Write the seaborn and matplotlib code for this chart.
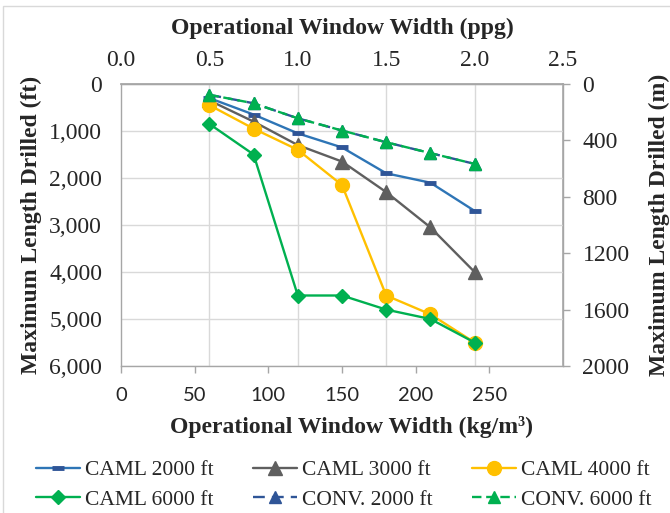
import numpy as np
import pandas as pd
import matplotlib
matplotlib.use("Agg")
import matplotlib.pyplot as plt
import seaborn as sns
from matplotlib.ticker import FixedLocator, FuncFormatter
from matplotlib.patches import Rectangle

# ---------------- data ----------------
width_kg = [60, 90, 120, 150, 180, 210, 240]
caml_2000 = [300, 650, 1050, 1350, 1900, 2100, 2700]
caml_3000 = [350, 800, 1300, 1650, 2300, 3050, 4000]
caml_4000 = [450, 950, 1400, 2150, 4500, 4900, 5500]
caml_6000 = [850, 1500, 4500, 4500, 4800, 5000, 5500]
conv_2000 = [230, 410, 730, 990, 1240, 1470, 1700]
conv_6000 = [230, 410, 730, 990, 1240, 1470, 1700]
series_names = ["CAML 2000 ft", "CAML 3000 ft", "CAML 4000 ft",
                "CAML 6000 ft", "CONV. 2000 ft", "CONV. 6000 ft"]
bottom_ticks = [0, 50, 100, 150, 200, 250]
top_ticks = [0.0, 0.5, 1.0, 1.5, 2.0, 2.5]
left_ticks = [0, 1000, 2000, 3000, 4000, 5000, 6000]
right_ticks = [0, 400, 800, 1200, 1600, 2000]

values = [caml_2000, caml_3000, caml_4000, caml_6000, conv_2000, conv_6000]
df = pd.concat([pd.DataFrame({"kg": width_kg, "ft": v, "series": n})
                for n, v in zip(series_names, values)], ignore_index=True)

# ---------------- style ----------------
sns.set_theme(style="white")
plt.rcParams["font.family"] = ["Liberation Serif", "DejaVu Serif"]

styles = {
    "CAML 2000 ft": dict(color="#2E75B6", marker="_", markersize=9, markeredgewidth=3.5,
                         markeredgecolor="#2F5597", linestyle="-"),
    "CAML 3000 ft": dict(color="#5F5F5F", marker="^", markersize=10, markeredgewidth=1,
                         markeredgecolor="#5F5F5F", linestyle="-"),
    "CAML 4000 ft": dict(color="#FFC000", marker="o", markersize=10, markeredgewidth=1,
                         markeredgecolor="#FFC000", linestyle="-"),
    "CAML 6000 ft": dict(color="#00B050", marker="D", markersize=7, markeredgewidth=1,
                         markeredgecolor="#00B050", linestyle="-"),
    "CONV. 2000 ft": dict(color="#2F5597", marker="^", markersize=8.5, markeredgewidth=1,
                          markeredgecolor="#2F5597", linestyle=(0, (5, 3))),
    "CONV. 6000 ft": dict(color="#00B050", marker="^", markersize=8.5, markeredgewidth=1,
                          markeredgecolor="#00B050", linestyle=(0, (4, 2))),
}

FS = 17

fig = plt.figure(figsize=(6.7, 5.13), dpi=100)
ax = fig.add_axes([121 / 670, 1 - 366 / 513, (563 - 121) / 670, (366 - 84) / 513])

for name in series_names:
    sns.lineplot(data=df[df["series"] == name], x="kg", y="ft", ax=ax, label=name,
                 linewidth=1.7, sort=False, **styles[name])

if ax.get_legend() is not None:
    ax.get_legend().remove()

axis_gray = "#A6A6A6"
grid_gray = "#D9D9D9"

ax.set_xlim(0, 300)
ax.set_ylim(6000, 0)
ax.set_xticks(bottom_ticks)
ax.set_yticks(left_ticks)
ax.yaxis.set_major_formatter(FuncFormatter(lambda v, p: f"{v:,.0f}"))
ax.xaxis.set_minor_locator(FixedLocator(np.array(top_ticks) * 120))
ax.grid(False)
ax.grid(which="minor", axis="x", color=grid_gray, lw=1)
ax.grid(which="major", axis="y", color=grid_gray, lw=1)
ax.tick_params(axis="x", which="minor", length=0)
ax.tick_params(axis="x", which="major", direction="out", length=5, width=1,
               color=axis_gray, pad=10, labelsize=14.5, bottom=True)
ax.tick_params(axis="y", which="major", length=0, pad=13.5, labelsize=FS)
for lab in ax.get_xticklabels():
    lab.set_fontfamily("Lato")
for s in ax.spines.values():
    s.set_color(axis_gray)
    s.set_linewidth(1)

ax.set_xlabel("Operational Window Width (kg/m³)", fontsize=FS, fontweight="bold")
ax.xaxis.set_label_coords(0.522, -0.178)
ax.set_ylabel("Maximum Length Drilled (ft)", fontsize=FS, fontweight="bold", labelpad=5)

# top axis (ppg)
top = ax.secondary_xaxis("top", functions=(lambda x: x / 120, lambda x: x * 120))
top.set_xticks(top_ticks)
top.xaxis.set_major_formatter(FuncFormatter(lambda v, p: f"{v:.1f}"))
top.tick_params(length=0, pad=9, labelsize=FS)
top.spines["top"].set_color(axis_gray)
top.set_xlabel("Operational Window Width (ppg)", fontsize=FS, fontweight="bold", labelpad=12)

# right axis (m)
right = ax.secondary_yaxis("right", functions=(lambda y: y / 3, lambda y: y * 3))
right.set_yticks(right_ticks)
right.tick_params(direction="out", length=5, width=1, color=axis_gray, pad=9, labelsize=FS)
right.spines["right"].set_color(axis_gray)
right.set_ylabel("Maximum Length Drilled (m)", fontsize=FS, fontweight="bold", labelpad=14)

# legend (row-major order)
handles, labels = ax.get_legend_handles_labels()
order = [0, 3, 1, 4, 2, 5]
fig.legend([handles[i] for i in order], [labels[i] for i in order],
           loc="upper center", bbox_to_anchor=(0.513, 1 - 445 / 513), ncol=3,
           frameon=False, fontsize=15.5, handlelength=2.05, handletextpad=0.25,
           columnspacing=1.8, labelspacing=0.45, borderpad=0.2)

# outer chart border
fig.patches.append(Rectangle((3 / 670, -0.05), 1.1, 1 - 6 / 513 + 0.05,
                             transform=fig.transFigure, fill=False,
                             edgecolor=grid_gray, linewidth=1))

fig.savefig("out.png", dpi=100)
